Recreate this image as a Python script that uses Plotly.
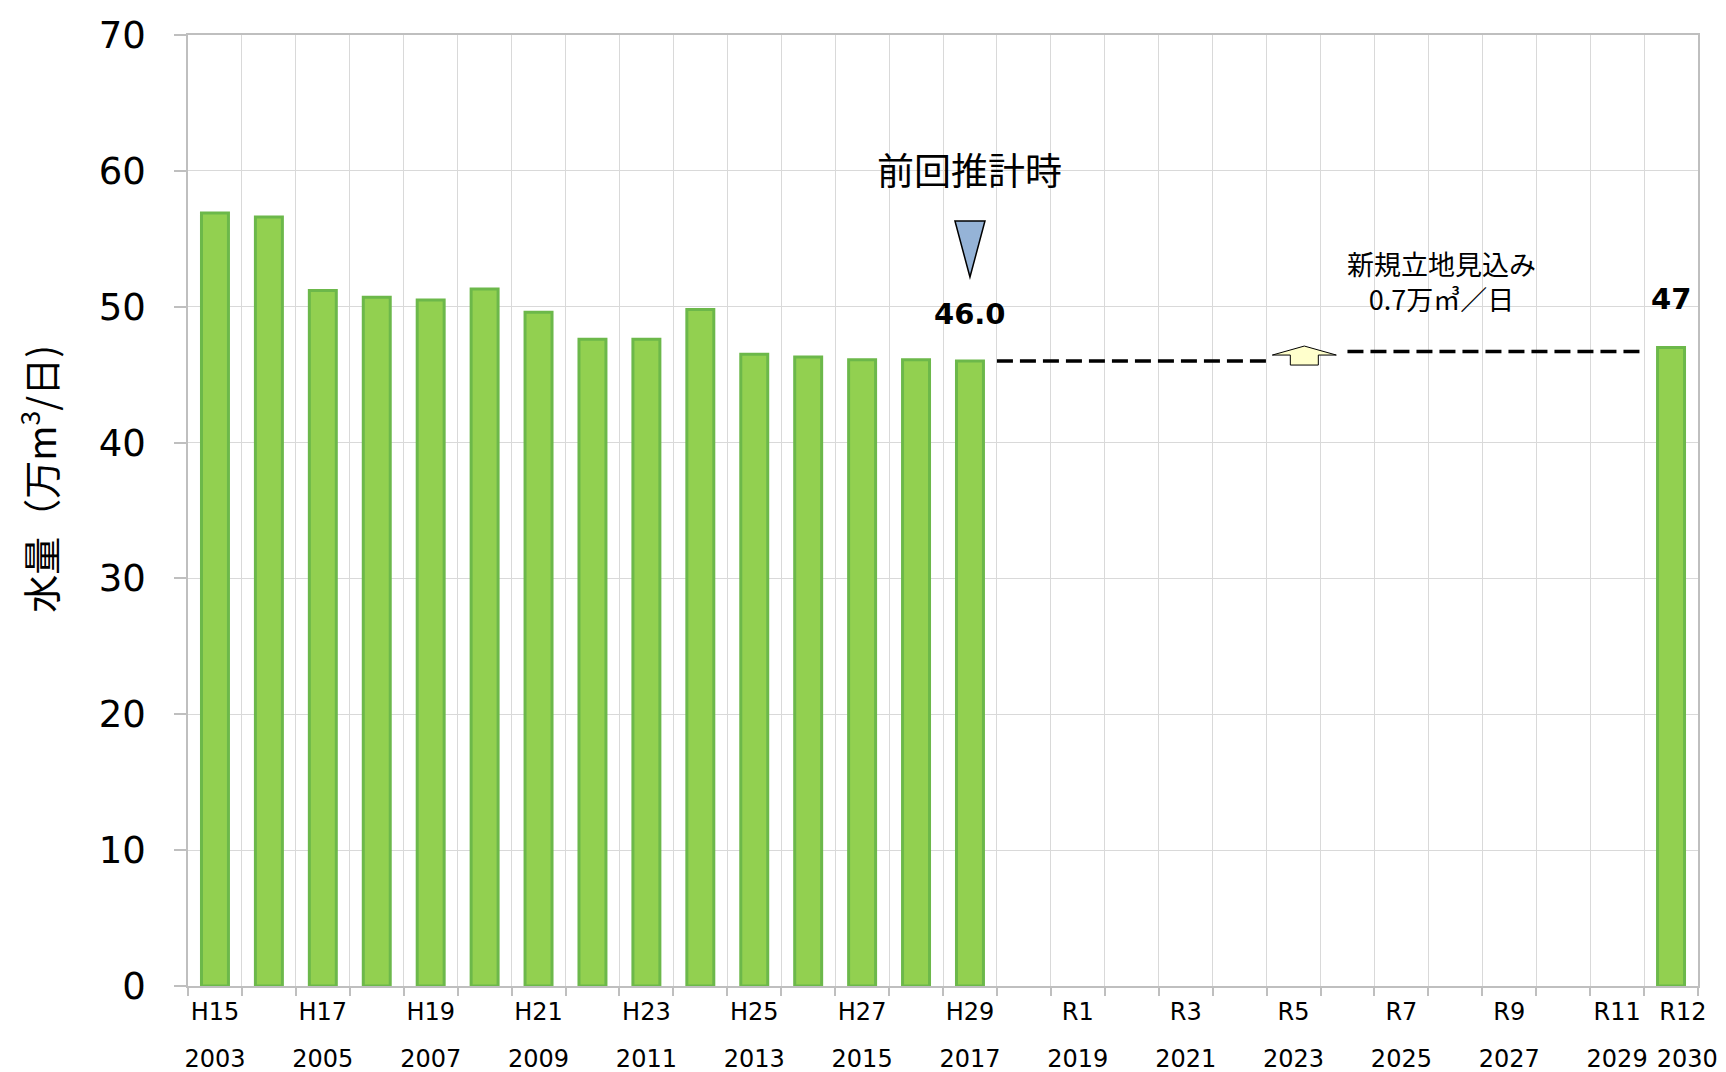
import plotly.graph_objects as go

# ---------------- data ----------------
years = list(range(2003, 2018))
water = [56.9, 56.6, 51.2, 50.7, 50.5, 51.3, 49.6, 47.6, 47.6, 49.8,
         46.5, 46.3, 46.1, 46.1, 46.0]
forecast_years = [2030]
forecast_vals = [47.0]
forecast_labels = ["47"]
new_site_add = 0.7   # 新規立地見込み 万m3/日

tick_years = [2003, 2005, 2007, 2009, 2011, 2013, 2015, 2017,
              2019, 2021, 2023, 2025, 2027, 2029, 2030]
era_labels = ["H15", "H17", "H19", "H21", "H23", "H25", "H27", "H29",
              "R1", "R3", "R5", "R7", "R9", "R11", "R12"]
year_labels = [str(y) for y in tick_years]

base_line_x = [2017.5, 2022.6]
new_line_x = [2024.0, 2029.5]
arrow_x = 2023.2

# ---------------- styles ----------------
BAR_FILL = "#92d050"
BAR_EDGE = "#6cb84a"
GRID = "#d9d9d9"
AXIS = "#bfbfbf"
NUM_FONT = "DejaVu Sans"
JP_FONT = "Noto Sans CJK JP"

# the last (R12 / 2030) labels sit slightly right of their slot in the reference
era_pos = tick_years[:-1] + [tick_years[-1] + 0.22]
year_pos = tick_years[:-1] + [tick_years[-1] + 0.30]

fig = go.Figure()

fig.add_trace(go.Bar(
    x=years, y=water, width=0.5,
    marker=dict(color=BAR_FILL, line=dict(color=BAR_EDGE, width=3)),
    showlegend=False, hoverinfo="x+y"))
fig.add_trace(go.Bar(
    x=forecast_years, y=forecast_vals, width=0.5,
    marker=dict(color=BAR_FILL, line=dict(color=BAR_EDGE, width=3)),
    showlegend=False, hoverinfo="x+y"))

base_val = water[-1]
new_val = round(base_val + new_site_add, 1)
fig.add_trace(go.Scatter(
    x=base_line_x, y=[base_val, base_val], mode="lines",
    line=dict(color="black", width=3.5, dash="16px,7px"),
    showlegend=False, hoverinfo="skip"))
fig.add_trace(go.Scatter(
    x=new_line_x, y=[new_val, new_val], mode="lines",
    line=dict(color="black", width=3.5, dash="16px,7px"),
    showlegend=False, hoverinfo="skip"))
# empty traces on the label axes so they are drawn
fig.add_trace(go.Scatter(x=[tick_years[0]], y=[None], xaxis="x2",
                         showlegend=False, hoverinfo="skip"))
fig.add_trace(go.Scatter(x=[tick_years[0]], y=[None], xaxis="x3",
                         showlegend=False, hoverinfo="skip"))

# triangle marker (前回推計時)
fig.add_shape(type="path", xref="x", yref="y",
              xsizemode="pixel", ysizemode="pixel",
              xanchor=years[-1], yanchor=base_val,
              path="M-15,140 L15,140 L0,84 Z",
              fillcolor="#95b3d7", line=dict(color="black", width=1.5))
# up arrow (新規立地見込み)
fig.add_shape(type="path", xref="x", yref="y",
              xsizemode="pixel", ysizemode="pixel",
              xanchor=arrow_x, yanchor=base_val,
              path="M-14,-4 L14,-4 L14,6 L32,6 L0,15 L-32,6 L-14,6 Z",
              fillcolor="#ffffcc", line=dict(color="black", width=1))

annotations = [
    dict(x=years[-1], y=base_val, xref="x", yref="y", text=f"<b>{base_val:.1f}</b>",
         showarrow=False, yanchor="bottom", yshift=28,
         font=dict(family=NUM_FONT, size=29, color="black")),
    dict(x=forecast_years[0], y=forecast_vals[0], xref="x", yref="y",
         text=f"<b>{forecast_labels[0]}</b>",
         showarrow=False, yanchor="bottom", yshift=29,
         font=dict(family=NUM_FONT, size=29, color="black")),
    dict(x=years[-1], y=base_val, xref="x", yref="y", text="前回推計時",
         showarrow=False, yanchor="middle", yshift=192,
         font=dict(family=JP_FONT, size=37, color="black")),
    dict(x=arrow_x + 2.55, y=base_val, xref="x", yref="y",
         text="新規立地見込み<br>0.7万㎥／日",
         showarrow=False, yanchor="middle", yshift=80,
         font=dict(family=JP_FONT, size=27, color="black")),
    dict(x=-0.099, y=0.533, xref="paper", yref="paper",
         xanchor="center", yanchor="middle",
         text="水量（万m<sup>3</sup>/日)", textangle=-90, showarrow=False,
         font=dict(family=JP_FONT, size=38, color="black")),
]

label_axis = dict(
    overlaying="x", matches="x", side="bottom", anchor="y",
    range=[2002.5, 2030.5], automargin=False,
    tickmode="array", tickangle=0, ticks="",
    showgrid=False, zeroline=False, showline=False,
    tickfont=dict(family=NUM_FONT, size=24, color="black"),
)

# the page body adds an 8px offset; size/margins compensate for it
fig.update_layout(
    width=1718, height=1064,
    margin=dict(l=180, r=28, t=27, b=86, autoexpand=False),
    paper_bgcolor="white", plot_bgcolor="white",
    bargap=0.5,
    annotations=annotations,
    xaxis=dict(
        range=[2002.5, 2030.5], automargin=False,
        showticklabels=False, ticks="", showgrid=False, zeroline=False,
        showline=True, linecolor=AXIS, linewidth=1.5, mirror=True,
        minor=dict(tickmode="linear", tick0=2002.5, dtick=1,
                   showgrid=True, gridcolor=GRID, gridwidth=1.3,
                   ticks="outside", ticklen=8, tickcolor=AXIS, tickwidth=1.5),
    ),
    xaxis2=dict(label_axis, tickvals=era_pos, ticktext=era_labels,
                ticklabelstandoff=9),
    xaxis3=dict(label_axis, tickvals=year_pos, ticktext=year_labels,
                ticklabelstandoff=56),
    yaxis=dict(
        range=[0, 70], dtick=10, tick0=0, automargin=False,
        showgrid=True, gridcolor=GRID, gridwidth=1.3, zeroline=False,
        showline=True, linecolor=AXIS, linewidth=1.5, mirror=True,
        ticks="outside", ticklen=12, tickcolor=AXIS, tickwidth=1.5,
        tickfont=dict(family=NUM_FONT, size=37, color="black"),
        ticklabelstandoff=21,
    ),
)

fig.write_html("out.html")
